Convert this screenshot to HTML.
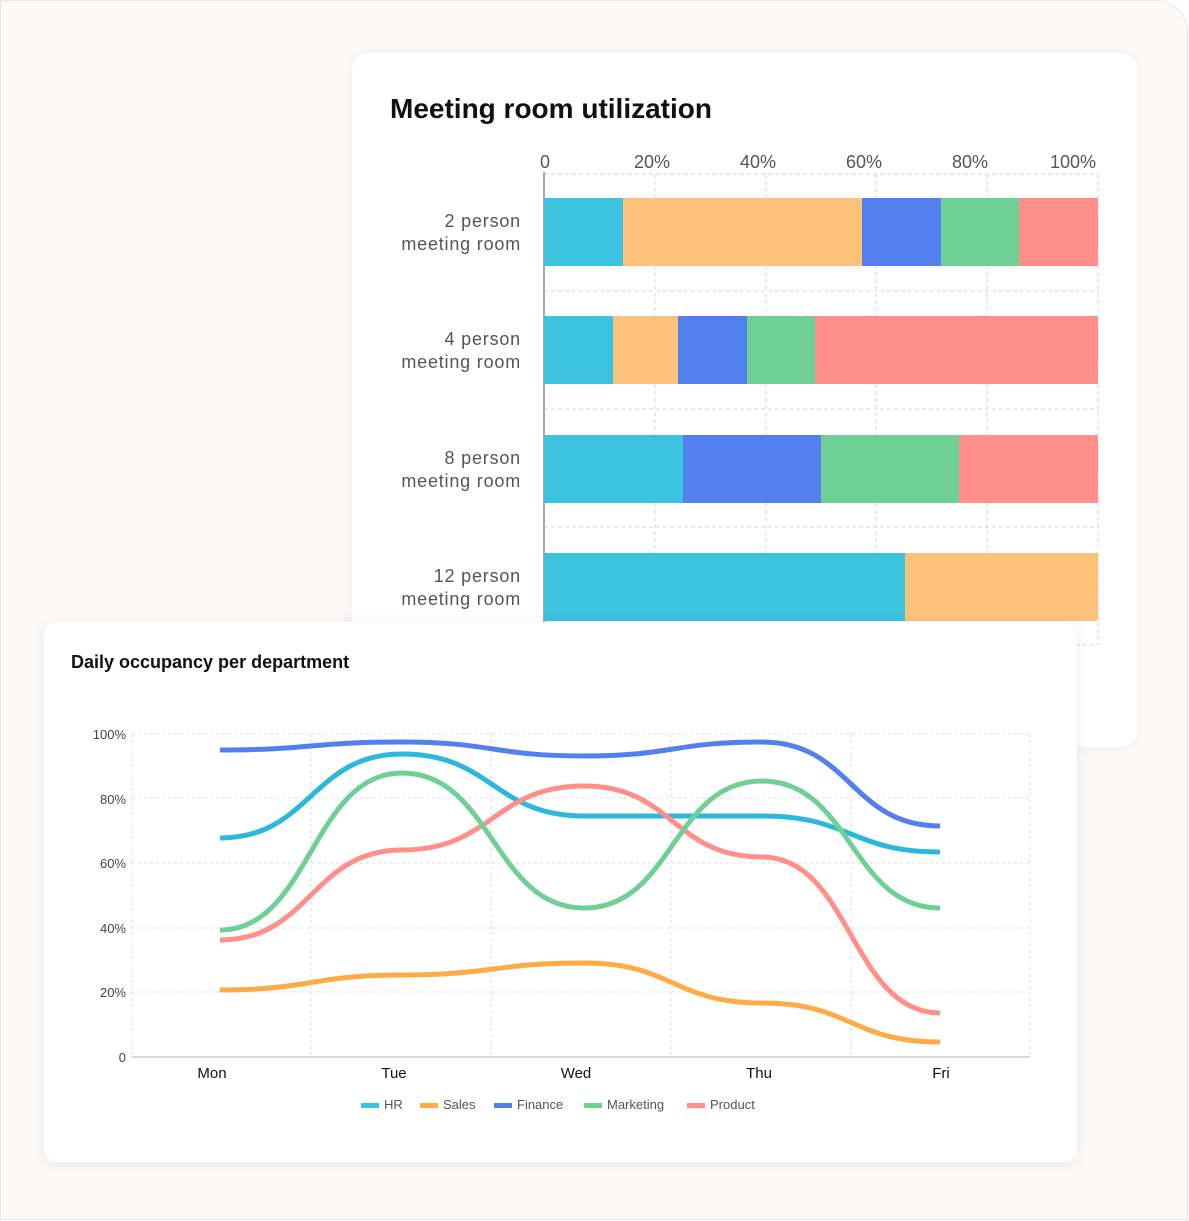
<!DOCTYPE html>
<html><head><meta charset="utf-8"><style>
html,body{margin:0;padding:0;}
body{width:1189px;height:1221px;position:relative;overflow:hidden;background:#fff;font-family:"Liberation Sans",sans-serif;}
.outer{position:absolute;left:0;top:0;width:1186px;height:1218px;border:1.5px solid #e9e7e6;border-radius:0 32px 0 0;background:#fcfaf9;}
.card1{position:absolute;left:352px;top:53px;width:785px;height:694px;background:#fff;border-radius:16px;box-shadow:0 0 14px rgba(0,0,0,0.05);}
.card2{position:absolute;left:44px;top:622px;width:1033px;height:540px;background:#fff;border-radius:12px;box-shadow:0 2px 14px rgba(0,0,0,0.08);}
</style></head><body>
<div class="outer"></div>
<div class="card1"></div>
<svg style="position:absolute;left:0;top:0" width="1189" height="1221">
<text x="390" y="118" font-size="28" font-weight="bold" fill="#111">Meeting room utilization</text>
<g font-size="18" fill="#555" text-anchor="middle">
<text x="545" y="168">0</text><text x="652" y="168">20%</text><text x="758" y="168">40%</text><text x="864" y="168">60%</text><text x="970" y="168">80%</text><text x="1073" y="168">100%</text>
</g>
<g stroke="#d4d4d4" stroke-dasharray="4,3" stroke-width="1">
<line x1="544" y1="174" x2="1098" y2="174"/><line x1="544" y1="291" x2="1098" y2="291"/><line x1="544" y1="409" x2="1098" y2="409"/><line x1="544" y1="527" x2="1098" y2="527"/><line x1="544" y1="645" x2="1098" y2="645"/>
<line x1="655" y1="174" x2="655" y2="645"/><line x1="766" y1="174" x2="766" y2="645"/><line x1="876" y1="174" x2="876" y2="645"/><line x1="987" y1="174" x2="987" y2="645"/><line x1="1098" y1="174" x2="1098" y2="645"/>
</g>
<line x1="544" y1="172" x2="544" y2="645" stroke="#8a8a9a" stroke-width="1.5"/>
<g>
<rect x="544" y="198" width="79" height="68" fill="#3bc3e0"/><rect x="623" y="198" width="239" height="68" fill="#fdc27a"/><rect x="862" y="198" width="79" height="68" fill="#537ff0"/><rect x="941" y="198" width="78" height="68" fill="#6fd095"/><rect x="1019" y="198" width="79" height="68" fill="#ff8f88"/>
<rect x="544" y="316" width="69" height="68" fill="#3bc3e0"/><rect x="613" y="316" width="65" height="68" fill="#fdc27a"/><rect x="678" y="316" width="69" height="68" fill="#537ff0"/><rect x="747" y="316" width="68" height="68" fill="#6fd095"/><rect x="815" y="316" width="283" height="68" fill="#ff8f88"/>
<rect x="544" y="435" width="139" height="68" fill="#3bc3e0"/><rect x="683" y="435" width="138" height="68" fill="#537ff0"/><rect x="821" y="435" width="138" height="68" fill="#6fd095"/><rect x="959" y="435" width="139" height="68" fill="#ff8f88"/>
<rect x="544" y="553" width="361" height="68" fill="#3bc3e0"/><rect x="905" y="553" width="193" height="68" fill="#fdc27a"/>
</g>
<g font-size="18" fill="#555" text-anchor="end" letter-spacing="0.8">
<text x="521" y="227">2 person</text><text x="521" y="250">meeting room</text>
<text x="521" y="345">4 person</text><text x="521" y="368">meeting room</text>
<text x="521" y="464">8 person</text><text x="521" y="487">meeting room</text>
<text x="521" y="582">12 person</text><text x="521" y="605">meeting room</text>
</g>
</svg>
<div class="card2"></div>
<svg style="position:absolute;left:0;top:0" width="1189" height="1221">
<text x="71" y="668" font-size="18" font-weight="bold" fill="#111">Daily occupancy per department</text>
<g stroke="#dcdcdc" stroke-dasharray="3,3" stroke-width="1">
<line x1="132" y1="734" x2="1030" y2="734"/><line x1="132" y1="798" x2="1030" y2="798"/><line x1="132" y1="863" x2="1030" y2="863"/><line x1="132" y1="928" x2="1030" y2="928"/><line x1="132" y1="992" x2="1030" y2="992"/>
<line x1="132" y1="734" x2="132" y2="1057"/><line x1="311" y1="734" x2="311" y2="1057"/><line x1="491" y1="734" x2="491" y2="1057"/><line x1="671" y1="734" x2="671" y2="1057"/><line x1="851" y1="734" x2="851" y2="1057"/><line x1="1030" y1="734" x2="1030" y2="1057"/>
</g>
<line x1="132" y1="1057" x2="1030" y2="1057" stroke="#ccc" stroke-width="1.5"/>
<g font-size="13" fill="#444" text-anchor="end">
<text x="126" y="739">100%</text><text x="126" y="804">80%</text><text x="126" y="868">60%</text><text x="126" y="933">40%</text><text x="126" y="997">20%</text><text x="126" y="1062">0</text>
</g>
<g font-size="15" fill="#111" text-anchor="middle">
<text x="212" y="1078">Mon</text><text x="394" y="1078">Tue</text><text x="576" y="1078">Wed</text><text x="759" y="1078">Thu</text><text x="941" y="1078">Fri</text>
</g>
<g fill="none" stroke-width="5">
<path stroke="#537ff0" d="M220 750 C310 750 312 742 402 742 C492 742 494 756 584 756 C673 756 673 742 762 742 C851 742 851 826 940 826"/>
<path stroke="#2cb8dc" d="M220 838 C310 838 312 754 402 754 C492 754 494 816 584 816 C673 816 673 816 762 816 C851 816 851 852 940 852"/>
<path stroke="#ff8f88" d="M220 940 C310 940 312 850 402 850 C492 850 494 786 584 786 C673 786 673 857 762 857 C851 857 851 1013 940 1013"/>
<path stroke="#6fd095" d="M220 930 C310 930 312 773 402 773 C492 773 494 908 584 908 C673 908 673 781 762 781 C851 781 851 908 940 908"/>
<path stroke="#ffab45" d="M220 990 C310 990 312 975 402 975 C492 975 494 963 584 963 C673 963 673 1003 762 1003 C851 1003 851 1042 940 1042"/>
</g>
<g font-size="13" fill="#555">
<rect x="361" y="1103" width="18" height="5" fill="#3bc3e0"/><text x="384" y="1109">HR</text>
<rect x="420" y="1103" width="18" height="5" fill="#ffab45"/><text x="443" y="1109">Sales</text>
<rect x="494" y="1103" width="18" height="5" fill="#537ff0"/><text x="517" y="1109">Finance</text>
<rect x="584" y="1103" width="18" height="5" fill="#6fd095"/><text x="607" y="1109">Marketing</text>
<rect x="687" y="1103" width="18" height="5" fill="#ff8f88"/><text x="710" y="1109">Product</text>
</g>
</svg>
</body></html>
